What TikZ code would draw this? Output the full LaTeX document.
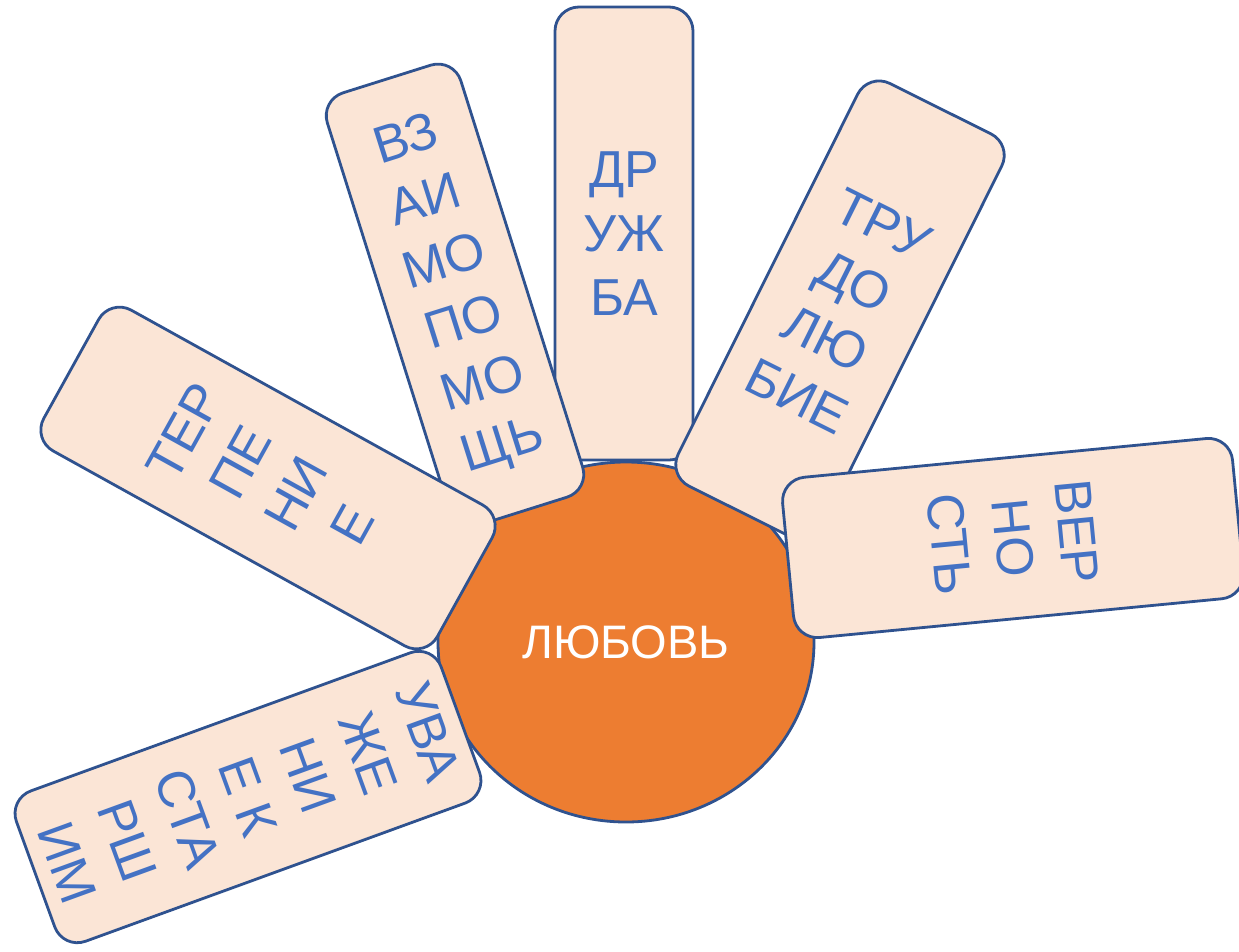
\documentclass[tikz,border=0pt]{standalone}
\usepackage{fontspec}
\setmainfont{Liberation Sans}
\usetikzlibrary{shapes.geometric}
\definecolor{petalfill}{HTML}{FBE5D6}
\definecolor{edgeblue}{HTML}{2F528F}
\definecolor{txtblue}{HTML}{4472C4}
\definecolor{core}{HTML}{ED7D31}
\begin{document}
\begin{tikzpicture}[x=1pt,y=-1pt,
  petal/.style={draw=edgeblue, fill=petalfill, line width=2.8pt, rounded corners=24pt,
    text=txtblue, align=center, font=\fontsize{52}{64}\selectfont, inner sep=0pt},
  corestyle/.style={draw=edgeblue, fill=core, line width=2.8pt, ellipse, inner sep=0pt,
    text=white, font=\fontsize{47}{56}\selectfont}]
\useasboundingbox (0,0) rectangle (1239,951);
\node[petal, minimum width=138pt, minimum height=453pt] (p1) at (624,233.5) {ДР\\УЖ\\БА};
\node[corestyle, minimum width=376pt, minimum height=360pt] (love) at (626,642) {ЛЮБОВЬ};
\node[petal, minimum width=140pt, minimum height=453pt, rotate=17.5] (p2) at (455,295) {ВЗ\\АИ\\МО\\ПО\\МО\\ЩЬ};
\node[petal, minimum width=161pt, minimum height=450pt, rotate=-26.5] (p3) at (840,310) {ТРУ\\ДО\\ЛЮ\\БИЕ};
\node[petal, minimum width=161pt, minimum height=452pt, rotate=-84.5] (p4) at (1013,538) {ВЕР\\НО\\СТЬ};
\node[petal, minimum width=161pt, minimum height=450pt, rotate=61] (p5) at (268,478) {ТЕР\\ПЕ\\НИ\\Е};
\node[petal, minimum width=160pt, minimum height=452pt, rotate=-70] (p6) at (248,797) {УВА\\ЖЕ\\НИ\\Е К\\СТА\\РШ\\ИМ};
\end{tikzpicture}
\end{document}
